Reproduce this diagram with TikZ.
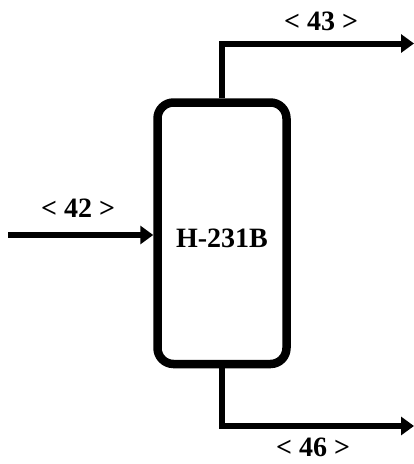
\documentclass[tikz,border=0pt]{standalone}
\usepackage{fontspec}
\setmainfont{Liberation Serif}
\usetikzlibrary{arrows.meta}
\begin{document}
\begin{tikzpicture}[x=1pt,y=-1pt,
  vessel/.style={draw=black,line width=8.5pt,rounded corners=16pt,
    minimum width=129pt,minimum height=261.5pt,inner sep=0pt},
  flow/.style={draw=black,line width=6pt,
    -{Triangle[length=13pt,width=18pt]}},
  lbl/.style={font=\fontsize{28}{32}\selectfont\bfseries,inner sep=0pt,anchor=base}]
\useasboundingbox (0,0) rectangle (414,464);
\node[vessel] (box) at (222,233.25) {};
\node[lbl] (name) at (222,247) {H-231B};
\coordinate (in) at (8,235);
\coordinate (top) at (414,43.5);
\coordinate (bot) at (414,426);
\draw[flow] (in) -- (in -| box.west);
\draw[flow] (box.north) |- (top);
\draw[flow] (box.south) |- (bot);
\node[lbl] (l42) at (78,217) {< 42 >};
\node[lbl] (l43) at (321,30) {< 43 >};
\node[lbl] (l46) at (313,456.5) {< 46 >};
\end{tikzpicture}
\end{document}
